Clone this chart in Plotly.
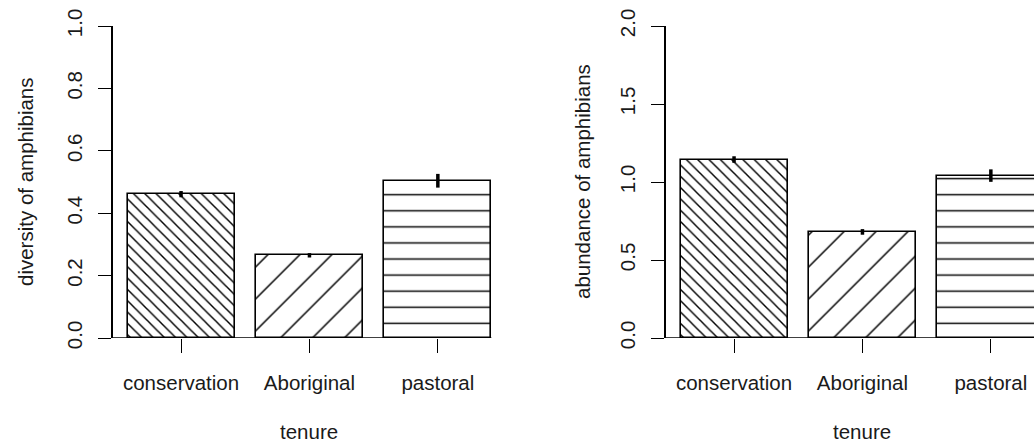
import plotly.graph_objects as go

# ---- data ----
categories = ["conservation", "Aboriginal", "pastoral"]
diversity = [0.461, 0.265, 0.504]
diversity_err = [0.010, 0.007, 0.022]
abundance = [1.144, 0.680, 1.041]
abundance_err = [0.021, 0.018, 0.040]
div_ticks = [0.0, 0.2, 0.4, 0.6, 0.8, 1.0]
abu_ticks = [0.0, 0.5, 1.0, 1.5, 2.0]

# R barplot geometry (width 1, space 0.2)
bar_w = 1.0
space = 0.2
centers = [space + bar_w / 2 + i * (bar_w + space) for i in range(len(categories))]
left_edge = space
right_edge = centers[-1] + bar_w / 2
pad = 0.04 * (right_edge - left_edge)
xmin = left_edge - pad

W, H = 1034, 443
px_per_unit = 107.0
L1, L2 = 113, 666
top_px, bot_px = 26, 338

patterns = [
    dict(shape="\\", size=8, solidity=0.18),
    dict(shape="/", size=22.6, solidity=0.065),
    dict(shape="-", size=16.07, solidity=0.09),
]

FONT = "Arial, Liberation Sans, Helvetica, sans-serif"
TXT = "#1a1a1a"
FS = 20.5

fig = go.Figure()


def add_panel(vals, errs, xa, ya):
    for i, cat in enumerate(categories):
        p = patterns[i]
        fig.add_trace(go.Bar(
            x=[centers[i]], y=[vals[i]], width=bar_w,
            marker=dict(
                color="white",
                line=dict(color="black", width=1.6),
                pattern=dict(shape=p["shape"], size=p["size"], solidity=p["solidity"],
                             fgcolor="black", bgcolor="white", fillmode="replace"),
            ),
            error_y=dict(type="data", array=[errs[i]], color="black", thickness=3.5, width=0),
            xaxis=xa, yaxis=ya, showlegend=False, name=cat,
        ))


add_panel(diversity, diversity_err, "x", "y")
add_panel(abundance, abundance_err, "x2", "y2")

# baselines from plot edge to right of last bar
for xr, yr in (("x", "y"), ("x2", "y2")):
    fig.add_shape(type="line", xref=xr, yref=yr, x0=xmin, x1=right_edge, y0=0, y1=0,
                  line=dict(color="black", width=1.6), layer="above")

ydom = [(H - bot_px) / H, (H - top_px) / H]
common_x = dict(
    tickmode="array", tickvals=centers, ticktext=categories,
    ticks="outside", ticklen=14, tickwidth=1.3, tickcolor="black",
    showline=False, showgrid=False, zeroline=False, automargin=False,
    tickfont=dict(family=FONT, size=FS, color=TXT),
    ticklabelstandoff=12,
)
common_y = dict(
    ticks="outside", ticklen=13, tickwidth=1.3, tickcolor="black",
    showline=True, linecolor="black", linewidth=1.6, automargin=False,
    showgrid=False, zeroline=False, tickangle=-90, tickformat=".1f",
    tickfont=dict(family=FONT, size=FS, color=TXT),
    ticklabelstandoff=8,
)

fig.update_layout(
    width=W, height=H,
    margin=dict(l=0, r=0, t=0, b=0, autoexpand=False),
    plot_bgcolor="white", paper_bgcolor="white",
    bargap=0,
    xaxis=dict(domain=[L1 / W, (L1 + (right_edge + pad - xmin) * px_per_unit) / W],
               range=[xmin, right_edge + pad], anchor="y", **common_x),
    yaxis=dict(domain=ydom, range=[0, 1], tickvals=div_ticks, anchor="x", **common_y),
    xaxis2=dict(domain=[L2 / W, 1.0],
                range=[xmin, xmin + (W - L2) / px_per_unit], anchor="y2", **common_x),
    yaxis2=dict(domain=ydom, range=[0, 2], tickvals=abu_ticks, anchor="x2", **common_y),
)

# axis titles
panel_center = [L1 + (right_edge + pad - xmin) * px_per_unit / 2,
                L2 + (right_edge + pad - xmin) * px_per_unit / 2]
ytitles = ["diversity of amphibians", "abundance of amphibians"]
ytitle_x = [25, 582]
for k in range(2):
    fig.add_annotation(text="tenure", xref="paper", yref="paper",
                       x=panel_center[k] / W, y=(H - 431) / H,
                       xanchor="center", yanchor="middle", showarrow=False,
                       font=dict(family=FONT, size=FS, color=TXT))
    fig.add_annotation(text=ytitles[k], xref="paper", yref="paper",
                       x=ytitle_x[k] / W, y=(H - (top_px + bot_px) / 2) / H,
                       xanchor="center", yanchor="middle", showarrow=False, textangle=-90,
                       font=dict(family=FONT, size=FS, color=TXT))

fig.write_html(
    "out.html",
    config={"displayModeBar": False},
    post_script="document.body.style.margin='0';document.body.style.overflow='hidden';",
)
